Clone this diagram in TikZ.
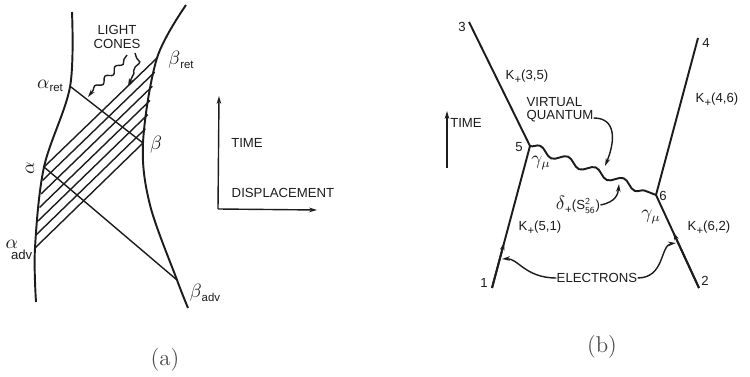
\documentclass[tikz,border=0pt]{standalone}
\usepackage{fontspec}
\newfontfamily\lettering{Liberation Sans}
\usetikzlibrary{arrows.meta,calc,decorations.pathmorphing}
\definecolor{ink}{HTML}{1C1C1C}
\newcommand\lowtxt[1]{\raisebox{-.55ex}{\fontsize{6.5}{7}\selectfont #1}}
\newcommand\gk[1]{{\fontsize{10.5}{11}\selectfont$#1$}}

\begin{document}
\begin{tikzpicture}[x=.02cm,y=-.02cm,font=\lettering\fontsize{7.5}{7.6}\selectfont,
  world/.style={ink,line width=1.1pt},
  ray/.style={ink,line width=.8pt},
  lbl/.style={inner sep=0pt,text=ink},
  tip/.style={-{Stealth[length=4.5pt,width=2.6pt]}},
  wig/.style={decorate,decoration={snake,amplitude=1.4pt,segment length=8pt,pre length=3pt,post length=4pt}},
  capt/.style={inner sep=0pt,text=ink!80,font=\rmfamily\fontsize{13}{14}\selectfont}]
\path[use as bounding box] (0,0) rectangle (750,377);
% (a) world lines and light cones
\coordinate (aret) at (71,87);
\coordinate (a) at (44,167);
\coordinate (aadv) at (35,248);
\coordinate (bret) at (157,58);
\coordinate (b) at (143,143);
\coordinate (badv) at (177,280);
\draw[world] plot[smooth,tension=.55] coordinates {(72,12) (70,87) (44,167) (35,248) (36,302)};
\draw[world] plot[smooth,tension=.55] coordinates {(186,5) (157,58) (143,143) (150,205) (177,280) (188,308)};
\draw[ray] (aret) -- (b);
\draw[ray] (a) -- (badv);
\foreach \t in {0,...,6}
  \draw[ray] ($(bret)!\t/6!(b)$) -- ($(a)!\t/6!(aadv)$);
\node[lbl] (laret) at (50,86) {\gk{\alpha}\lowtxt{ret}};
\node[lbl,rotate=90] (la) at (30,168) {\gk{\alpha}};
\node[lbl] (laadv) at (19,250) {\gk{\alpha}\kern-4pt\raisebox{-1.7ex}{adv}};
\node[lbl] (lb) at (156,145) {\gk{\beta}};
\node[lbl] (lbret) at (181,60) {\gk{\beta}\lowtxt{ret}};
\node[lbl] (lbadv) at (205,293) {\gk{\beta}\lowtxt{adv}};
\node[lbl,align=center] (lc) at (117,37) {LIGHT\\CONES};
\coordinate (lc1) at (127,55);
\coordinate (lc2) at (135,53);
\coordinate (hit1) at (88,97);
\coordinate (hit2) at (128,86);
\draw[ray,wig,tip] (lc1) .. controls (116,72) and (100,80) .. (hit1);
\draw[ray,wig,tip] (lc2) .. controls (140,64) and (134,72) .. (hit2);
% (a) axes
\coordinate (org) at (218,209);
\coordinate (tup) at (219,96);
\coordinate (dright) at (317,210);
\draw[ray,tip] (org) -- (tup);
\draw[ray,tip] (org) -- (dright);
\node[lbl] (ltime) at (247,143) {TIME};
\node[lbl] (ldisp) at (283,193) {DISPLACEMENT};
% (b) electron lines
\coordinate (n1) at (492,288);
\coordinate (n2) at (699,288);
\coordinate (n3) at (469,22);
\coordinate (n4) at (698,38);
\coordinate (n5) at (530,146);
\coordinate (n6) at (656,195);
\draw[world] (n3) -- (n5) -- (n1);
\draw[world] (n4) -- (n6) -- (n2);
\draw[world,tip] (n1) -- ($(n1)!.32!(n5)$);
\draw[world,tip] (n2) -- ($(n2)!.6!(n6)$);
\draw[world,decorate,decoration={snake,amplitude=2.2pt,segment length=17pt}] (n5) -- (n6);
\node[lbl] (l1) at (484,283) {1};
\node[lbl] (l2) at (705,281) {2};
\node[lbl] (l3) at (462,27) {3};
\node[lbl] (l4) at (706,43) {4};
\node[lbl] (l5) at (519,147) {5};
\node[lbl] (l6) at (663,196) {6};
\node[lbl] (k35) at (527,77) {K\lowtxt{+}(3,5)};
\node[lbl] (k46) at (717,100) {K\lowtxt{+}(4,6)};
\node[lbl] (k51) at (540,228) {K\lowtxt{+}(5,1)};
\node[lbl] (k62) at (709,228) {K\lowtxt{+}(6,2)};
\node[lbl] (g5) at (541,163) {\gk{\gamma_\mu}};
\node[lbl] (g6) at (651,217) {\gk{\gamma_\mu}};
\node[lbl] (dlt) at (578,205) {\gk{\delta}\lowtxt{+}(S$^{\mathsf{2}}_{\mathsf{56}}$)};
\node[lbl,align=left] (vq) at (560,110) {VIRTUAL\\QUANTUM};
\node[lbl] (el) at (597,278) {ELECTRONS};
\coordinate (hvq) at (605,166);
\coordinate (hdl) at (619,184);
\coordinate (hel) at (502,259);
\coordinate (her) at (676,243);
\draw[ray,tip] (vq.east |- 0,118) .. controls (617,118) and (615,142) .. (hvq);
\draw[ray,tip] (dlt.east) .. controls (616,202) and (618,194) .. (hdl);
\draw[ray,tip] (el.west) .. controls (525,278) and (518,258) .. (hel);
\draw[ray,tip] (el.east) .. controls (665,278) and (660,245) .. (her);
% (b) time arrow
\coordinate (tb0) at (447,168);
\coordinate (tb1) at (447,111);
\draw[ray,tip] (tb0) -- (tb1);
\node[lbl] (ltb) at (466,123) {TIME};
% captions
\node[capt] (ca) at (165,360) {(a)};
\node[capt] (cb) at (602,347) {(b)};
\end{tikzpicture}
\end{document}
